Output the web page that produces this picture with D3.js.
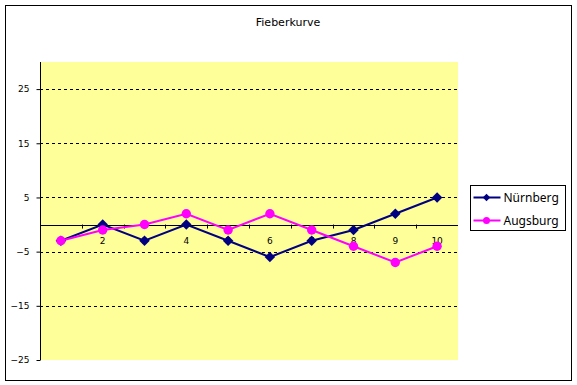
<!DOCTYPE html>
<html>
<head>
<meta charset="utf-8">
<script src="https://cdn.jsdelivr.net/npm/d3@7"></script>
<style>
  body { margin: 0; background: #fff; }
  text { font-family: Tahoma, "DejaVu Sans", sans-serif; }
</style>
</head>
<body>
<div id="chart"></div>
<script>
// data
var categories = [1, 2, 3, 4, 5, 6, 7, 8, 9, 10];
var nuernberg = [-3, 0, -3, 0, -3, -6, -3, -1, 2, 5];
var augsburg = [-3, -1, 0, 2, -1, 2, -1, -4, -7, -4];
var yTicks = [-25, -15, -5, 5, 15, 25];
var seriesNames = ["Nürnberg", "Augsburg"];

var width = 577, height = 385;
var margin = {left: 40, top: 62, right: 119, bottom: 25};
var pw = width - margin.left - margin.right,
    ph = height - margin.top - margin.bottom;

var svg = d3.select("#chart").append("svg")
    .attr("width", width)
    .attr("height", height);

// chart border
svg.append("rect")
    .attr("x", 5.5).attr("y", 5.5)
    .attr("width", 566).attr("height", 375)
    .attr("fill", "#fff").attr("stroke", "#000");

svg.append("text")
    .attr("x", 288).attr("y", 26)
    .attr("text-anchor", "middle")
    .style("font-size", "11px")
    .text("Fieberkurve");

var g = svg.append("g")
    .attr("transform", "translate(" + margin.left + "," + margin.top + ")");

var x = d3.scaleBand().domain(categories).range([0, pw]);
var y = d3.scaleLinear().domain([-25, 30]).range([ph, 0]);

g.append("rect")
    .attr("width", pw).attr("height", ph)
    .attr("fill", "#ffff99");

// gridlines
g.selectAll(".grid")
    .data(yTicks.filter(function(d) { return d !== -25; }))
  .enter().append("line")
    .attr("x1", 0).attr("x2", pw)
    .attr("y1", function(d) { return Math.round(y(d)) + 0.5; })
    .attr("y2", function(d) { return Math.round(y(d)) + 0.5; })
    .attr("stroke", "#000")
    .attr("stroke-dasharray", "3,3");

// y axis
var yAxis = g.append("g")
    .attr("transform", "translate(0.5,0)")
    .call(d3.axisLeft(y).tickValues(yTicks).tickSize(4).tickPadding(7));
yAxis.select(".domain").attr("d", "M0," + y(30) + "V" + y(-25));
yAxis.selectAll("text")
    .style("font-size", "9px")
    .attr("fill", "#000");

// x axis at zero
var xAxis = g.append("g")
    .attr("transform", "translate(0," + (Math.round(y(0)) + 0.5) + ")")
    .call(d3.axisBottom(x).tickSize(0).tickPadding(12));
xAxis.select(".domain").attr("d", "M0,0H" + pw);
xAxis.selectAll("text")
    .style("font-size", "9px")
    .attr("fill", "#000");
g.selectAll(".xtick")
    .data(categories.slice(1))
  .enter().append("line")
    .attr("x1", function(d) { return Math.round(x(d)) + 0.5; })
    .attr("x2", function(d) { return Math.round(x(d)) + 0.5; })
    .attr("y1", y(0)).attr("y2", y(0) + 4)
    .attr("stroke", "#000");

var line = d3.line()
    .x(function(d, i) { return x(categories[i]) + x.bandwidth() / 2; })
    .y(function(d) { return y(d); });

var colors = ["#000080", "#ff00ff"];
var diamond = d3.symbol().type(d3.symbolSquare).size(55);
var smallDiamond = d3.symbol().type(d3.symbolSquare).size(28);

[nuernberg, augsburg].forEach(function(vals, s) {
  g.append("path")
      .datum(vals)
      .attr("fill", "none")
      .attr("stroke", colors[s])
      .attr("stroke-width", 2)
      .attr("d", line);
});
[nuernberg, augsburg].forEach(function(vals, s) {
  g.selectAll(".m" + s)
      .data(vals)
    .enter().append(s === 0 ? "path" : "circle")
      .attr("fill", colors[s])
      .each(function(d, i) {
        var cx = x(categories[i]) + x.bandwidth() / 2, cy = y(d);
        if (s === 0) d3.select(this).attr("d", diamond).attr("transform", "translate(" + cx + "," + cy + ") rotate(45)");
        else d3.select(this).attr("cx", cx).attr("cy", cy).attr("r", 4.7);
      });
});

// legend
var lg = svg.append("g").attr("transform", "translate(470.5,185.5)");
lg.append("rect").attr("width", 95).attr("height", 45)
    .attr("fill", "#fff").attr("stroke", "#000");
seriesNames.forEach(function(name, s) {
  var ly = 12 + s * 23;
  lg.append("line").attr("x1", 3).attr("x2", 30).attr("y1", ly).attr("y2", ly)
      .attr("stroke", colors[s]).attr("stroke-width", 2);
  if (s === 0) lg.append("path").attr("d", smallDiamond).attr("fill", colors[s])
      .attr("transform", "translate(16," + ly + ") rotate(45)");
  else lg.append("circle").attr("cx", 16).attr("cy", ly).attr("r", 3.5).attr("fill", colors[s]);
  lg.append("text").attr("x", 33).attr("y", ly + 4.5)
      .style("font-size", "12px").style("font-family", "'Noto Sans', sans-serif").text(name);
});
</script>
</body>
</html>
